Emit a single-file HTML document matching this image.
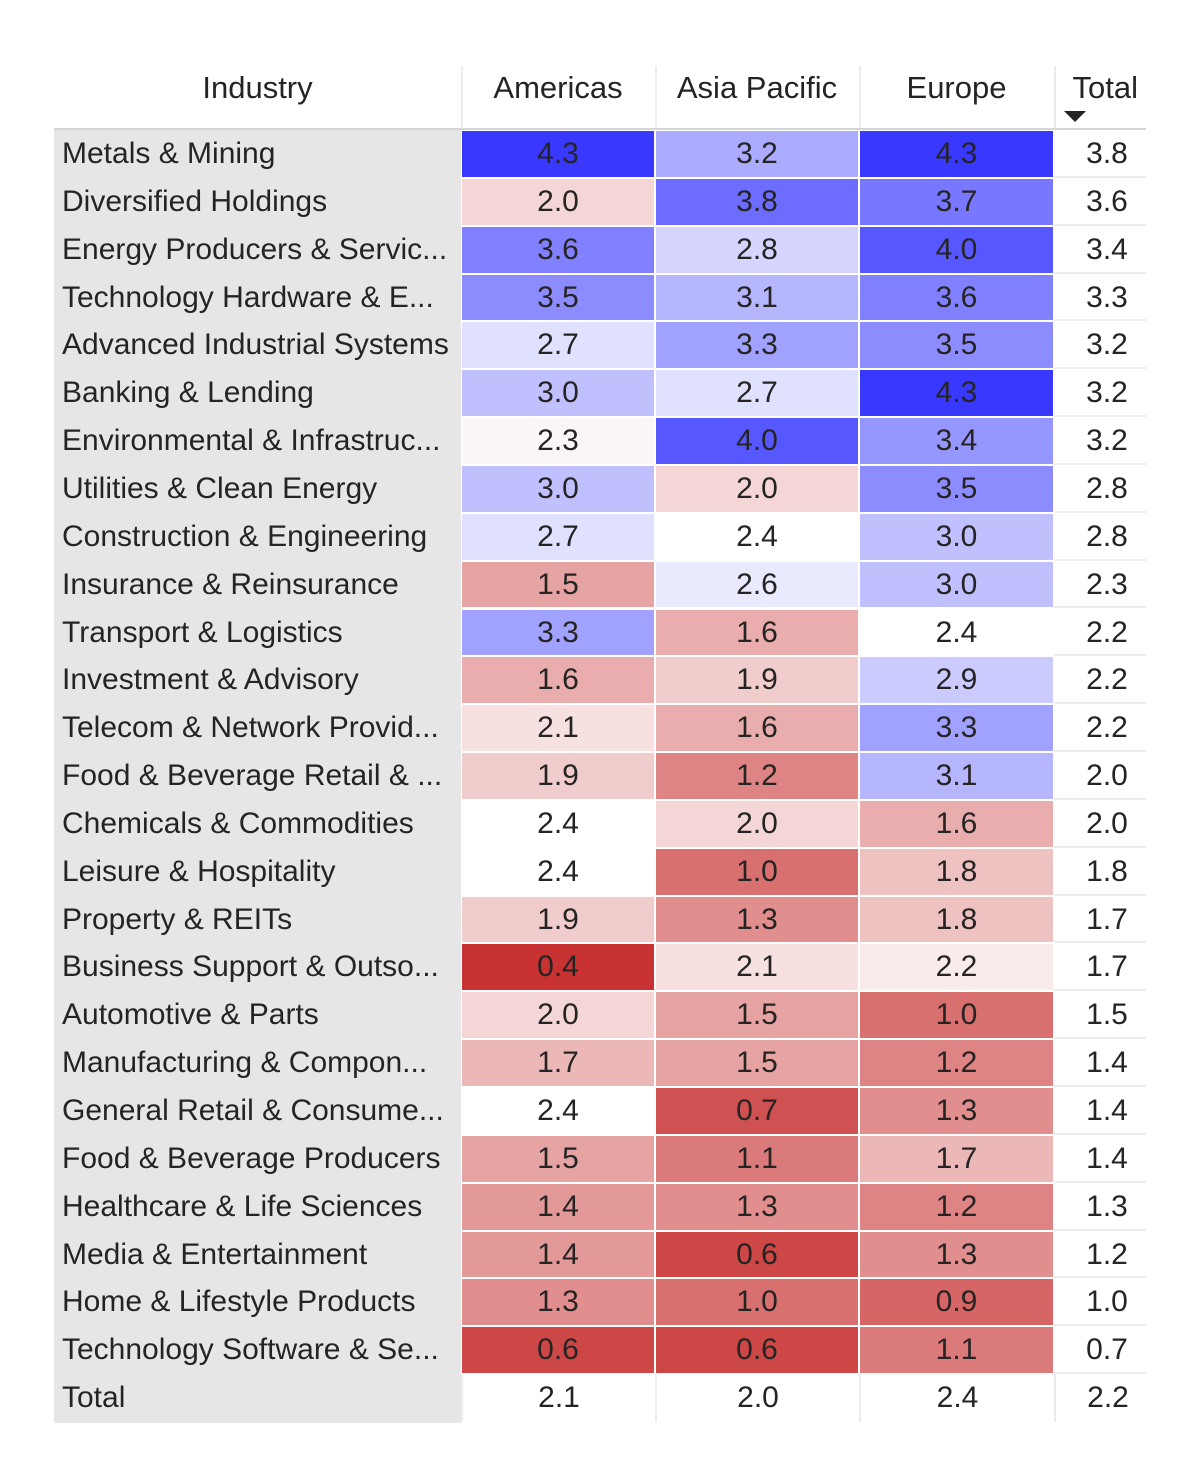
<!DOCTYPE html>
<html><head><meta charset="utf-8"><style>
body{margin:0;background:#fff;width:1200px;height:1484px;overflow:hidden;font-family:"Liberation Sans",sans-serif;color:#252423}
#chart{position:absolute;left:0;top:0;width:1200px;height:1484px}
.c{position:absolute;box-sizing:border-box;font-size:30px;line-height:48px;white-space:nowrap;overflow:hidden}
.h{position:absolute;font-size:31px;line-height:40px;white-space:nowrap}
</style></head><body>
<div id="chart"></div>
<script>
const industries=["Metals & Mining","Diversified Holdings","Energy Producers & Servic...","Technology Hardware & E...","Advanced Industrial Systems","Banking & Lending","Environmental & Infrastruc...","Utilities & Clean Energy","Construction & Engineering","Insurance & Reinsurance","Transport & Logistics","Investment & Advisory","Telecom & Network Provid...","Food & Beverage Retail & ...","Chemicals & Commodities","Leisure & Hospitality","Property & REITs","Business Support & Outso...","Automotive & Parts","Manufacturing & Compon...","General Retail & Consume...","Food & Beverage Producers","Healthcare & Life Sciences","Media & Entertainment","Home & Lifestyle Products","Technology Software & Se..."];
const regions=["Americas","Asia Pacific","Europe"];
const americas=[4.3,2.0,3.6,3.5,2.7,3.0,2.3,3.0,2.7,1.5,3.3,1.6,2.1,1.9,2.4,2.4,1.9,0.4,2.0,1.7,2.4,1.5,1.4,1.4,1.3,0.6];
const asiaPacific=[3.2,3.8,2.8,3.1,3.3,2.7,4.0,2.0,2.4,2.6,1.6,1.9,1.6,1.2,2.0,1.0,1.3,2.1,1.5,1.5,0.7,1.1,1.3,0.6,1.0,0.6];
const europe=[4.3,3.7,4.0,3.6,3.5,4.3,3.4,3.5,3.0,3.0,2.4,2.9,3.3,3.1,1.6,1.8,1.8,2.2,1.0,1.2,1.3,1.7,1.2,1.3,0.9,1.1];
const rowTotals=[3.8,3.6,3.4,3.3,3.2,3.2,3.2,2.8,2.8,2.3,2.2,2.2,2.2,2.0,2.0,1.8,1.7,1.7,1.5,1.4,1.4,1.4,1.3,1.2,1.0,0.7];
const colTotals=[2.1,2.0,2.4];
const grandTotal=2.2;
const series=[americas,asiaPacific,europe];
const root=document.getElementById('chart');
const colX=[461,655,859,1054,1146], top0=130, rh=47.85;
function color(v){const mid=2.4;
 if(v<=mid){const t=Math.min(1,(mid-v)/(mid-0.4));return `rgb(${Math.round(255-55*t)},${Math.round(255-205*t)},${Math.round(255-205*t)})`;}
 const t=Math.min(1,(v-mid)/(4.3-mid));return `rgb(${Math.round(255-199*t)},${Math.round(255-199*t)},255)`;}
function mk(cls,x,y,w,h,txt,align){const d=document.createElement('div');d.className=cls;d.style.left=x+'px';d.style.top=y+'px';d.style.width=w+'px';if(h)d.style.height=h+'px';d.textContent=txt;if(align)d.style.textAlign=align;root.appendChild(d);return d;}
// header
let e=mk('h',54,68,407,0,'Industry','center');


regions.forEach((r,i)=>{const d=mk('h',colX[i],68,colX[i+1]-colX[i],0,r,'center');

});
e=mk('h',1054,68,84,0,'Total','right');


e=mk('c',1064,111,0,0,'');e.style.borderLeft='11px solid transparent';e.style.borderRight='11px solid transparent';e.style.borderTop='11px solid #252423';e.style.overflow='visible';


colX.slice(0,4).forEach(x=>{const s=mk('c',x,66,2,63,'');s.style.background='#ececec';

});
e=mk('c',54,128,1092,2,'');e.style.background='#d6d6d6';


e=mk('c',54,130,407,rh*27+1,'');e.style.background='#e6e6e6';


industries.forEach((n,r)=>{const y=top0+r*rh;
 const l=mk('c',62,y,394,rh,n);
 
 
 series.forEach((s,i)=>{const c=mk('c',colX[i]+1,y+1,colX[i+1]-colX[i]-2,rh-2,s[r].toFixed(1),'center');c.style.background=color(s[r]);c.style.lineHeight=(rh-2)+'px';
  
  });
 const t=mk('c',1054,y,92,rh,rowTotals[r].toFixed(1),'center');t.style.borderBottom='2px solid #ececec';t.style.paddingLeft='14px';
 
 
});
const yT=top0+26*rh;
e=mk('c',62,yT,398,rh,'Total');


colTotals.forEach((v,i)=>{const c=mk('c',colX[i],yT,colX[i+1]-colX[i],rh,v.toFixed(1),'center');c.style.borderLeft='2px solid #ececec';

});
e=mk('c',1054,yT,92,rh,grandTotal.toFixed(1),'center');e.style.borderLeft='2px solid #ececec';e.style.paddingLeft='14px';


</script>
</body></html>
